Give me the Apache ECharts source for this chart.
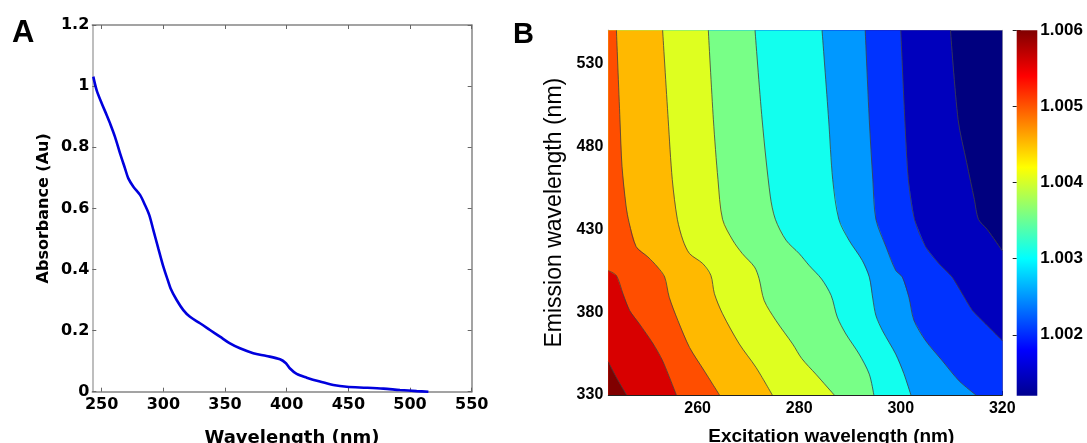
<!DOCTYPE html>
<html><head><meta charset="utf-8">
<script src="https://cdn.jsdelivr.net/npm/echarts@6/dist/echarts.min.js"></script>
<style>html,body{margin:0;padding:0;background:#fff}#c{width:1087px;height:443px}</style>
</head><body><div id="c"></div>
<script>
// ---------- Panel A: absorbance spectrum ----------
const absWavelength = [243.2,245.9,250,254.1,256.8,260.8,264.9,268.9,271.6,275.7,281.1,285.1,288.6,291.9,295.9,300,302.7,305.9,310.8,316.2,321.6,329.7,337.8,345.9,354,362.1,372.9,383.7,394.6,399.4,402.7,408.1,416.2,427,437.8,448.6,464.9,478.4,491.9,505.4,514.9];
const absValue = [1.031,0.987,0.944,0.905,0.878,0.834,0.780,0.731,0.698,0.671,0.644,0.611,0.578,0.529,0.469,0.409,0.376,0.338,0.300,0.267,0.245,0.224,0.202,0.180,0.158,0.142,0.126,0.117,0.106,0.093,0.076,0.058,0.046,0.033,0.022,0.016,0.013,0.010,0.0056,0.002,0.0];
const absXTicks = [250,300,350,400,450,500,550];
const absYTicks = [0,0.2,0.4,0.6,0.8,1,1.2];

// ---------- Panel B: contour map ----------
const exMin = 242.4, exMax = 320, emMin = 330, emMax = 550;
const exTicks = [260,280,300,320];
const emTicks = [330,380,430,480,530];
const cbMin = 1.0012, cbMax = 1.006;
const cbTicks = [1.002,1.003,1.004,1.005,1.006];
// band fill colours, lowest level first
const bandColors = ['#00007F','#0000BD','#0033FF','#0098FF','#12FFEE','#78FF87','#DEFF20','#FFB900','#FF4E00','#D80000','#800000'];
// contour lines [excitation, emission], each bounding the region of higher level on its left
const edge1 = [[309.8,550],[311.3,496],[313,470],[314.5,448],[315.3,436],[317,430],[320,417]];
const edge2 = [[300,550],[300.8,496],[301.5,460],[302.7,436],[304.9,419.4],[307.5,409.3],[310.1,401.2],[312.1,391.1],[314.1,381],[316.7,372.9],[320,362.8]];
const edge3 = [[293,550],[293.8,496],[294.5,460],[295.1,436],[297.1,419.4],[299,405.2],[300.3,401.2],[301.6,389],[302.6,375],[304.9,362.8],[308.2,350.6],[311.5,338.5],[314.8,330]];
const edge4 = [[284.5,550],[285.8,496],[286.6,460],[287.8,436],[289.8,423.4],[292.4,411.3],[293.8,401.2],[294.5,388],[295.1,378],[296.4,368.8],[299,354.7],[300.6,343],[302,330]];
const edge5 = [[271.3,550],[272.7,496],[274.3,450],[275.3,436],[277.4,423.4],[280,415.3],[282,408],[284.4,400],[286.3,390],[287.5,377],[289.2,366.8],[291.8,354.7],[293.8,342.6],[294.7,330]];
const edge6 = [[262.1,550],[263.1,496],[264,460],[264.9,436],[266.9,423.4],[268.8,415.3],[271.2,407.2],[272.1,400.2],[273.1,387],[275.4,375],[278.7,360.8],[280.5,352],[283.3,342.5],[286.9,330]];
const edge7 = [[253.1,550],[254.2,496],[255,460],[256,436],[257.1,423.4],[258.4,415.3],[261,409.3],[262.6,402.2],[263.3,391.1],[264.9,379],[268.2,360.8],[271.5,346.6],[274.7,330]];
const edge8 = [[244,550],[244.7,496],[245.1,468],[245.9,444],[246.5,434],[247.9,419.4],[250.2,413.3],[252.1,407.2],[253.5,401.2],[254.4,389],[256.1,375],[258.4,358.7],[261.3,344.6],[264.3,330]];
const edge9 = [[242.4,405],[244,402],[245.3,391],[246.6,381],[248.5,373],[251.2,361],[253.1,350.6],[255.8,330]];
const edge10 = [[242.4,350],[244,340.5],[246,330]];
const edges = [edge1,edge2,edge3,edge4,edge5,edge6,edge7,edge8,edge9,edge10];

function bandPolygon(k) {
  if (k === 0) return [[exMin,emMax],[exMax,emMax],[exMax,emMin],[exMin,emMin]];
  const e = edges[k-1];
  const pts = e.slice();
  const first = e[0], last = e[e.length-1];
  if (last[0] === exMax) pts.push([exMax, emMin]);
  pts.push([exMin, emMin]);
  if (first[1] === emMax) pts.push([exMin, emMax]);
  return pts;
}

const chart = echarts.init(document.getElementById('c'), null, {renderer:'canvas'});
const fA = {fontFamily:'DejaVu Sans', fontWeight:'bold', fontSize:16, color:'#000'};
const fB = {fontFamily:'Liberation Sans', fontWeight:'bold', fontSize:16, color:'#000'};
const fC = {fontFamily:'Liberation Sans', fontWeight:'bold', fontSize:17, color:'#000'};
const noSplit = {show:false};

const option = {
  animation:false,
  backgroundColor:'#fff',
  grid:[
    {left:92.3, top:25, width:379.4, height:366.7, outerBoundsMode:'none', containLabel:false},
    {left:608.3, top:30.3, width:394, height:364.7, outerBoundsMode:'none', containLabel:false},
    {left:1016.7, top:30.3, width:20.6, height:365.4, outerBoundsMode:'none', containLabel:false}
  ],
  graphic:[
    {type:'text', left:12, top:18, style:{text:'A', font:'bold 31px "Liberation Sans"', fill:'#000'}},
    {type:'text', left:513, top:20, style:{text:'B', font:'bold 29px "Liberation Sans"', fill:'#000'}}
  ],
  xAxis:[
    {gridIndex:0, type:'value', min:242.4, max:550, position:'bottom',
     name:'Wavelength (nm)', nameLocation:'middle', nameGap:38,
     nameTextStyle:{fontFamily:'DejaVu Sans', fontWeight:'bold', fontSize:18, color:'#000', padding:[0,0,0,20]},
     axisLine:{onZero:false, lineStyle:{color:'#858585', width:1.5}},
     axisTick:{inside:true, length:4, customValues:absXTicks, lineStyle:{color:'#666'}},
     axisLabel:Object.assign({margin:5, customValues:absXTicks}, fA), splitLine:noSplit},
    {gridIndex:0, type:'value', min:242.4, max:550, position:'top',
     axisLine:{onZero:false, lineStyle:{color:'#858585', width:1.5}},
     axisTick:{inside:true, length:4, customValues:absXTicks, lineStyle:{color:'#666'}},
     axisLabel:{show:false}, splitLine:noSplit},
    {gridIndex:1, type:'value', min:exMin, max:exMax, position:'bottom',
     name:'Excitation wavelength (nm)', nameLocation:'middle', nameGap:32,
     nameTextStyle:{fontFamily:'Liberation Sans', fontWeight:'bold', fontSize:19, color:'#000', padding:[0,0,0,52]},
     axisLine:{onZero:false, lineStyle:{color:'#222', width:1}},
     axisTick:{inside:true, length:4, customValues:exTicks, lineStyle:{color:'#222'}},
     axisLabel:Object.assign({margin:6, customValues:exTicks}, fB), splitLine:noSplit},
    {gridIndex:1, type:'value', min:exMin, max:exMax, position:'top',
     axisLine:{onZero:false, lineStyle:{color:'#b0b0b0', width:1}},
     axisTick:{show:false}, axisLabel:{show:false}, splitLine:noSplit},
    {gridIndex:2, type:'value', min:0, max:1, show:false}
  ],
  yAxis:[
    {gridIndex:0, type:'value', min:0, max:1.2, position:'left',
     name:'Absorbance (Au)', nameLocation:'middle', nameGap:40,
     nameTextStyle:{fontFamily:'DejaVu Sans', fontWeight:'bold', fontSize:16, color:'#000'},
     axisLine:{onZero:false, lineStyle:{color:'#a8a8a8', width:1.5}},
     axisTick:{inside:true, length:4, customValues:absYTicks, lineStyle:{color:'#666'}},
     axisLabel:Object.assign({margin:3, customValues:absYTicks}, fA), splitLine:noSplit},
    {gridIndex:0, type:'value', min:0, max:1.2, position:'right',
     axisLine:{onZero:false, lineStyle:{color:'#858585', width:1.5}},
     axisTick:{inside:true, length:4, customValues:absYTicks, lineStyle:{color:'#666'}},
     axisLabel:{show:false}, splitLine:noSplit},
    {gridIndex:1, type:'value', min:emMin, max:emMax, position:'left',
     name:'Emission wavelength (nm)', nameLocation:'middle', nameGap:42,
     nameTextStyle:{fontFamily:'Liberation Sans', fontWeight:'normal', fontSize:23, color:'#000'},
     axisLine:{onZero:false, lineStyle:{color:'#222', width:1}},
     axisTick:{inside:true, length:4, customValues:emTicks, lineStyle:{color:'#222'}},
     axisLabel:Object.assign({margin:5, customValues:emTicks}, fB), splitLine:noSplit},
    {gridIndex:1, type:'value', min:emMin, max:emMax, position:'right',
     axisLine:{onZero:false, lineStyle:{color:'#b0b0b0', width:1}},
     axisTick:{show:false}, axisLabel:{show:false}, splitLine:noSplit},
    {gridIndex:2, type:'value', min:cbMin, max:cbMax, position:'right',
     axisLine:{show:false},
     axisTick:{inside:true, length:4, customValues:cbTicks, lineStyle:{color:'#222'}},
     axisLabel:Object.assign({margin:3, customValues:cbTicks, formatter:v=>v.toFixed(3)}, fC), splitLine:noSplit},
    {gridIndex:2, type:'value', min:cbMin, max:cbMax, position:'left',
     axisLine:{show:false},
     axisTick:{inside:true, length:4, customValues:cbTicks, lineStyle:{color:'#222'}},
     axisLabel:{show:false}, splitLine:noSplit}
  ],
  series:[
    {type:'line', xAxisIndex:0, yAxisIndex:0, smooth:0.3, showSymbol:false, symbol:'none',
     data:absWavelength.map((x,i)=>[x, absValue[i]]),
     lineStyle:{color:'#0000DD', width:2.6}},
    {type:'custom', xAxisIndex:2, yAxisIndex:2, clip:true, z:1,
     data:bandColors.map((c,i)=>[exMin, emMin, i]),
     renderItem:function(params, api){
       const k = params.dataIndex;
       const pts = bandPolygon(k).map(p=>api.coord(p));
       return {type:'polygon', shape:{points:pts}, style:{fill:bandColors[k], stroke:null}};
     }},
    ...edges.map(e=>({type:'line', xAxisIndex:2, yAxisIndex:2, z:3, smooth:0.3, showSymbol:false, symbol:'none',
      data:e, lineStyle:{color:'#404040', width:0.8}})),
    {type:'custom', xAxisIndex:4, yAxisIndex:4, z:1,
     data:[[0, cbMin, cbMax]],
     renderItem:function(params, api){
       const p0 = api.coord([0, api.value(2)]);
       const p1 = api.coord([1, api.value(1)]);
       return {type:'rect', shape:{x:p0[0], y:p0[1], width:p1[0]-p0[0], height:p1[1]-p0[1]},
         style:{fill:new echarts.graphic.LinearGradient(0,0,0,1,[
           {offset:0, color:'#800000'},{offset:0.125, color:'#FF0000'},{offset:0.375, color:'#FFFF00'},
           {offset:0.625, color:'#00FFFF'},{offset:0.875, color:'#0000FF'},{offset:1, color:'#00008F'}])}};
     }}
  ]
};
chart.setOption(option);
</script></body></html>
